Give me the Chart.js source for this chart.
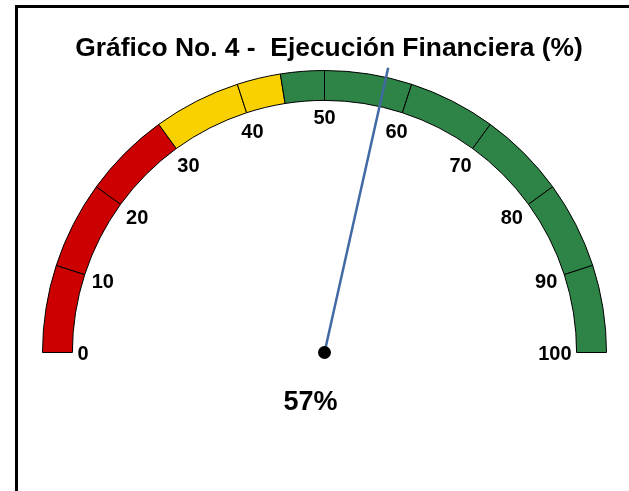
<!DOCTYPE html>
<html>
<head>
<meta charset="utf-8">
<script src="https://cdn.jsdelivr.net/npm/chart.js@4/dist/chart.umd.min.js"></script>
<style>
  body { margin: 0; background: #ffffff; }
  canvas { display: block; }
</style>
</head>
<body>
<canvas id="myChart_4" width="629" height="491"></canvas>
<script>
// datos del grafico
const chartTitle = 'Gráfico No. 4 -  Ejecución Financiera (%)';
const tickLabels = [0, 10, 20, 30, 40, 50, 60, 70, 80, 90, 100];
const bandLimits = [0, 30, 45, 100];
const bandColors = ['#CC0000', '#F9D100', '#2E8447'];
const gaugeValue = [57];

function myChart_4(){

  const ctx_4 = document.getElementById('myChart_4');
  const font = "'Liberation Sans', Arial, sans-serif";

  // cortes = marcas + limites de bandas
  const breaks = [...new Set(tickLabels.concat(bandLimits))].sort((a, b) => a - b);
  const segData = [];
  const segColors = [];
  for (let i = 1; i < breaks.length; i++) {
    segData.push(breaks[i] - breaks[i - 1]);
    let b = 0;
    while (b < bandLimits.length - 2 && breaks[i - 1] >= bandLimits[b + 1]) b++;
    segColors.push(bandColors[b]);
  }
  const maxVal = tickLabels[tickLabels.length - 1];

  const gaugeExtras = {
    id: 'gaugeExtras',
    beforeDraw(chart) {
      const c = chart.ctx;
      c.save();
      c.fillStyle = '#ffffff';
      c.fillRect(0, 0, chart.width, chart.height);
      c.lineWidth = 3;
      c.strokeStyle = '#000000';
      c.strokeRect(16.5, 6.5, 800, 800);
      // titulo
      c.fillStyle = '#000000';
      c.font = 'bold 25px ' + font;
      c.textAlign = 'center';
      c.textBaseline = 'alphabetic';
      c.translate(329, 56);
      c.scale(1.056, 1);
      c.fillText(chartTitle, 0, 0);
      c.restore();
    },
    afterDraw(chart) {
      const arc = chart.getDatasetMeta(0).data[0];
      const cx = arc.x, cy = arc.y;
      const rIn = arc.innerRadius, rOut = arc.outerRadius;
      const c = chart.ctx;
      const angleOf = v => -Math.PI + Math.PI * v / maxVal;

      // etiquetas
      c.save();
      c.fillStyle = '#000000';
      const fs = 20;
      c.font = 'bold ' + fs + 'px ' + font;
      c.textAlign = 'center';
      c.textBaseline = 'alphabetic';
      tickLabels.forEach(v => {
        const a = angleOf(v);
        const ux = Math.cos(a), uy = Math.sin(a);
        const txt = String(v);
        const hw = c.measureText(txt).width / 2;
        const hh = 0.716 * fs / 2;
        const gap = 5 + 4 * Math.abs(uy);
        const d = rIn - gap - (hw * Math.abs(ux) + hh * Math.abs(uy));
        const x = cx + d * ux, y = cy + d * uy;
        c.fillText(txt, x, y + hh);
      });

      // aguja
      const a = angleOf(gaugeValue[0]);
      const len = rOut * 1.035;
      c.strokeStyle = '#4169A3';
      c.lineWidth = 2.5;
      c.beginPath();
      c.moveTo(cx, cy);
      c.lineTo(cx + len * Math.cos(a), cy + len * Math.sin(a));
      c.stroke();
      c.fillStyle = '#000000';
      c.beginPath();
      c.arc(cx, cy, 6.5, 0, Math.PI * 2);
      c.fill();

      // valor
      c.font = 'bold 27px ' + font;
      c.fillText(gaugeValue[0] + '%', cx - 14, cy + 57);
      c.restore();
    }
  };

  new Chart(ctx_4, {
    type: 'doughnut',
    data: {
      labels: segData.map((d, i) => breaks[i] + '-' + breaks[i + 1]),
      datasets: [{
        data: segData,
        backgroundColor: segColors,
        borderColor: '#000000',
        borderWidth: 1
      }]
    },
    options: {
      responsive: false,
      animation: false,
      rotation: -90,
      circumference: 180,
      cutout: '89.4%',
      layout: {
        padding: { left: 42, right: 22, top: 70, bottom: 138 }
      },
      plugins: {
        legend: { display: false },
        tooltip: { enabled: false },
        title: { display: false }
      }
    },
    plugins: [gaugeExtras]
  });
}

myChart_4()
</script>
</body>
</html>
